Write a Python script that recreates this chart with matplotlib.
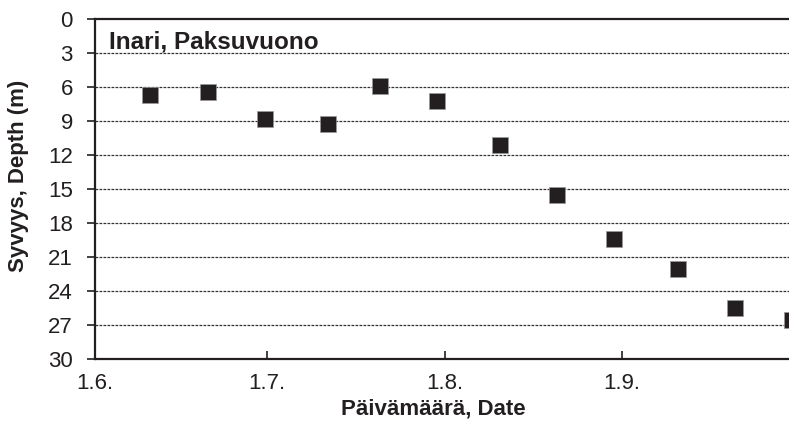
import numpy as np
import pandas as pd
import matplotlib
matplotlib.use('Agg')
import matplotlib.pyplot as plt

# sampling dates and depth readings
dates = ["2005-06-10 16:00", "2005-06-20 16:00", "2005-06-30 16:00", "2005-07-11 16:00",
         "2005-07-20 16:00", "2005-07-30 16:00", "2005-08-10 16:00", "2005-08-20 16:00",
         "2005-08-30 16:00", "2005-09-10 16:00", "2005-09-20 16:00", "2005-09-30 16:00"]
depths = [6.7, 6.4, 8.8, 9.3, 5.9, 7.2, 11.1, 15.5, 19.4, 22.1, 25.5, 26.6]

x_ticks = ["2005-06-01", "2005-07-01", "2005-08-01", "2005-09-01", "2005-10-01"]
x_tick_labels = ["1.6.", "1.7.", "1.8.", "1.9.", ""]
y_ticks = list(range(0, 31, 3))

plt.rcParams['font.family'] = ['Liberation Sans', 'DejaVu Sans']
ink = '#231f20'

fig = plt.figure(figsize=(7.89, 4.22), dpi=100)
ax = fig.add_axes([95 / 789, 1 - 359 / 422, 699 / 789, 340 / 422])

x = pd.to_datetime(dates)
ax.plot(x, depths, linestyle='none', marker='s', markersize=12.2,
        markerfacecolor=ink, markeredgecolor='#9a9a9a', markeredgewidth=0.5,
        zorder=3, clip_on=False)

# y axis: depth, downwards
ax.set_ylim(30, 0)
ax.set_yticks(y_ticks)
ax.set_yticklabels([str(v) for v in y_ticks], fontsize=16, color=ink)
for v in y_ticks[1:-1]:
    ax.axhline(v, color='#333333', linewidth=0.9, linestyle=(0, (2.2, 1.0)), zorder=1)

# x axis: dates
xt = pd.to_datetime(x_ticks)
ax.set_xlim(xt[0], xt[-1])
ax.set_xticks(xt)
ax.set_xticklabels(x_tick_labels, fontsize=16, color=ink)

ax.tick_params(axis='y', direction='out', length=6, width=1.2, pad=10, colors=ink)
ax.tick_params(axis='x', direction='in', length=6, width=1.2, pad=10, colors=ink)

for side in ['left', 'bottom', 'top']:
    ax.spines[side].set_linewidth(1.6)
    ax.spines[side].set_color(ink)
ax.spines['right'].set_visible(False)

ax.text(0.02, 0.965, "Inari, Paksuvuono", transform=ax.transAxes,
        fontsize=17.5, fontweight='bold', color=ink, ha='left', va='top')

fig.text(433 / 789, 1 - 415 / 422, "Päivämäärä, Date", fontsize=16,
         fontweight='bold', color=ink, ha='center', va='baseline')
fig.text(19 / 789, 1 - 176 / 422, "Syvyys, Depth (m)", fontsize=16,
         fontweight='bold', color=ink, ha='center', va='center', rotation=90)

fig.savefig('out.png', dpi=100)
plt.close(fig)
